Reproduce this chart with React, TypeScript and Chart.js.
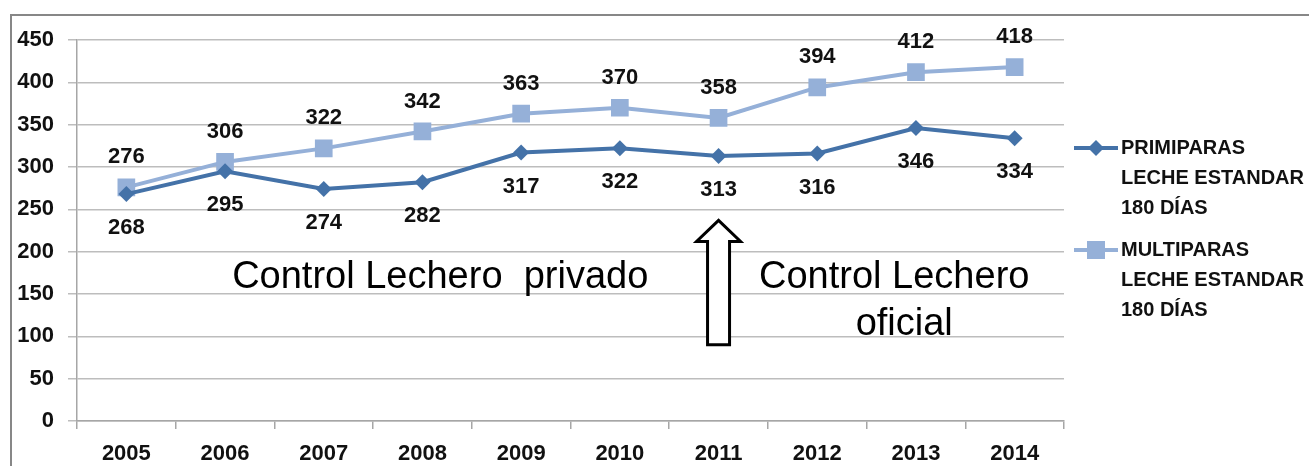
import React, { useEffect, useRef } from "react";
import { Chart, registerables } from "chart.js";

Chart.register(...registerables);

const years = ["2005", "2006", "2007", "2008", "2009", "2010", "2011", "2012", "2013", "2014"];
const primiparas = [268, 295, 274, 282, 317, 322, 313, 316, 346, 334];
const multiparas = [276, 306, 322, 342, 363, 370, 358, 394, 412, 418];
const primLabel = "PRIMIPARAS\nLECHE ESTANDAR\n180 DÍAS";
const multiLabel = "MULTIPARAS\nLECHE ESTANDAR\n180 DÍAS";
const leftNote = "Control Lechero  privado";
const rightNote = ["Control Lechero", "oficial"];
const yMin = 0;
const yMax = 450;
const yStep = 50;

const DARK = "#4472A8";
const LIGHT = "#95B0D8";
const FONT = "'Liberation Sans', Arial, sans-serif";

const W = 1309;
const H = 466;

const framePlugin = {
  id: "frame",
  beforeDraw(chart: any) {
    const ctx = chart.ctx;
    ctx.save();
    ctx.fillStyle = "#ffffff";
    ctx.fillRect(0, 0, chart.width, chart.height);
    ctx.strokeStyle = "#878787";
    ctx.lineWidth = 2;
    ctx.beginPath();
    ctx.moveTo(11, chart.height + 5);
    ctx.lineTo(11, 15);
    ctx.lineTo(chart.width + 5, 15);
    ctx.stroke();
    ctx.restore();
  },
};

const labelsPlugin = {
  id: "valueLabels",
  afterDatasetsDraw(chart: any) {
    const ctx = chart.ctx;
    ctx.save();
    ctx.font = `bold 22px ${FONT}`;
    ctx.fillStyle = "#111111";
    ctx.textAlign = "center";
    ctx.textBaseline = "middle";
    chart.data.datasets.forEach((ds: any, di: number) => {
      const meta = chart.getDatasetMeta(di);
      const off = ds.labelPos === "above" ? -30 : 34;
      meta.data.forEach((pt: any, i: number) => {
        ctx.fillText(String(ds.data[i]), pt.x, pt.y + off);
      });
    });
    ctx.restore();
  },
};

const notesPlugin = {
  id: "notes",
  afterDatasetsDraw(chart: any) {
    const ctx = chart.ctx;
    const xs = chart.scales.x;
    const ys = chart.scales.y;
    const step = xs.getPixelForValue(1) - xs.getPixelForValue(0);
    ctx.save();
    ctx.font = `38px ${FONT}`;
    ctx.fillStyle = "#000000";
    ctx.textAlign = "center";
    ctx.textBaseline = "alphabetic";
    const leftX = xs.getPixelForValue(3) + 0.18 * step;
    ctx.fillText(leftNote, leftX, ys.getPixelForValue(157));
    const rightX = xs.getPixelForValue(8) - 0.22 * step;
    ctx.fillText(rightNote[0], rightX, ys.getPixelForValue(157));
    ctx.fillText(rightNote[1], rightX + 10, ys.getPixelForValue(102));

    // block arrow at 2011
    const cx = xs.getPixelForValue(6);
    const tip = ys.getPixelForValue(237);
    const headBase = ys.getPixelForValue(212);
    const bottom = ys.getPixelForValue(90);
    const hw = 22;
    const sw = 11;
    ctx.beginPath();
    ctx.moveTo(cx, tip);
    ctx.lineTo(cx + hw, headBase);
    ctx.lineTo(cx + sw, headBase);
    ctx.lineTo(cx + sw, bottom);
    ctx.lineTo(cx - sw, bottom);
    ctx.lineTo(cx - sw, headBase);
    ctx.lineTo(cx - hw, headBase);
    ctx.closePath();
    ctx.fillStyle = "#ffffff";
    ctx.fill();
    ctx.strokeStyle = "#000000";
    ctx.lineWidth = 3;
    ctx.lineJoin = "miter";
    ctx.stroke();
    ctx.restore();
  },
};

const legendPlugin = {
  id: "sideLegend",
  afterDraw(chart: any) {
    const ctx = chart.ctx;
    const x0 = chart.chartArea.right + 10;
    const lineLen = 44;
    const tops = [148, 250];
    ctx.save();
    chart.data.datasets.forEach((ds: any, di: number) => {
      const y = tops[di];
      ctx.strokeStyle = ds.borderColor;
      ctx.lineWidth = 4;
      ctx.beginPath();
      ctx.moveTo(x0, y);
      ctx.lineTo(x0 + lineLen, y);
      ctx.stroke();
      const mx = x0 + lineLen / 2;
      ctx.fillStyle = ds.backgroundColor;
      if (ds.pointStyle === "rect") {
        ctx.fillRect(mx - 9, y - 9, 18, 18);
      } else {
        ctx.beginPath();
        ctx.moveTo(mx, y - 8);
        ctx.lineTo(mx + 8, y);
        ctx.lineTo(mx, y + 8);
        ctx.lineTo(mx - 8, y);
        ctx.closePath();
        ctx.fill();
      }
      ctx.font = `bold 20px ${FONT}`;
      ctx.fillStyle = "#111111";
      ctx.textAlign = "left";
      ctx.textBaseline = "middle";
      String(ds.label)
        .split("\n")
        .forEach((line: string, li: number) => {
          ctx.fillText(line, x0 + lineLen + 3, y + li * 30);
        });
    });
    ctx.restore();
  },
};

export default function App() {
  const ref = useRef<HTMLCanvasElement | null>(null);

  useEffect(() => {
    if (!ref.current) return;
    const chart = new Chart(ref.current, {
      type: "line",
      data: {
        labels: years,
        datasets: [
          {
            label: primLabel,
            data: primiparas,
            borderColor: DARK,
            backgroundColor: DARK,
            borderWidth: 4,
            pointStyle: "rectRot",
            pointRadius: 8,
            pointHoverRadius: 8,
            pointBorderWidth: 0,
            tension: 0,
            labelPos: "below",
          } as any,
          {
            label: multiLabel,
            data: multiparas,
            borderColor: LIGHT,
            backgroundColor: LIGHT,
            borderWidth: 4,
            pointStyle: "rect",
            pointRadius: 12.5,
            pointHoverRadius: 12.5,
            pointBorderWidth: 0,
            tension: 0,
            labelPos: "above",
          } as any,
        ],
      },
      options: {
        animation: false,
        responsive: false,
        maintainAspectRatio: false,
        layout: { padding: { left: 0, top: 40, right: W - 1064, bottom: 0 } },
        plugins: {
          legend: { display: false },
          tooltip: { enabled: false },
        },
        scales: {
          x: {
            offset: true,
            grid: {
              offset: true,
              drawOnChartArea: false,
              drawTicks: true,
              tickLength: 8,
              color: "#a6a6a6",
              lineWidth: 1.5,
            },
            border: { display: true, color: "#a6a6a6", width: 1.5 },
            ticks: {
              color: "#111111",
              font: { family: FONT, size: 22, weight: "bold" },
              padding: 12,
              maxRotation: 0,
            },
            afterFit(scale: any) {
              scale.height = H - 421;
            },
          },
          y: {
            min: yMin,
            max: yMax,
            ticks: {
              stepSize: yStep,
              color: "#111111",
              font: { family: FONT, size: 22, weight: "bold" },
              padding: 14,
            },
            grid: {
              color: "#bdbdbd",
              lineWidth: 1.5,
              tickLength: 9,
            },
            border: { display: true, color: "#a6a6a6", width: 1.5 },
            afterFit(scale: any) {
              scale.width = 77;
            },
          },
        },
      },
      plugins: [framePlugin, labelsPlugin, notesPlugin, legendPlugin],
    });
    return () => chart.destroy();
  }, []);

  return (
    <div style={{ position: "fixed", left: 0, top: 0, width: W, height: H, background: "#fff" }}>
      <canvas ref={ref} width={W} height={H} style={{ width: W, height: H, display: "block" }} />
    </div>
  );
}
